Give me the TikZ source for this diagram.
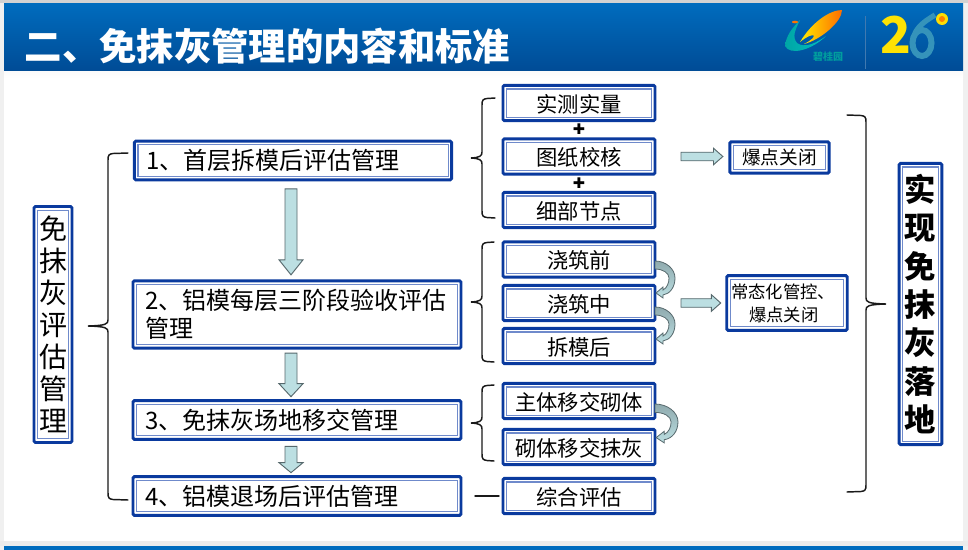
\documentclass[tikz,border=0pt]{standalone}
\usepackage{fontspec}
\setmainfont{Noto Sans CJK SC}
\newfontfamily\plusfont{DejaVu Sans}
\usetikzlibrary{calc}
\definecolor{bd}{HTML}{0A3A9E}
\definecolor{bdin}{HTML}{6F8ACB}
\definecolor{af}{HTML}{BCDFE2}
\definecolor{ad}{HTML}{8FAAAE}
\definecolor{as}{HTML}{56686C}
\definecolor{brk}{HTML}{1A1A1A}
\definecolor{hdtop}{HTML}{006CBE}
\definecolor{hdbot}{HTML}{004C96}
\tikzset{
  boxbase/.style={draw=bd,line width=2.2pt,rounded corners=1pt,fill=white,inner sep=0pt,outer sep=0pt,
    path picture={\draw[bdin,line width=.85pt,rounded corners=0pt]
      ([shift={(2.7pt,2.7pt)}]path picture bounding box.south west) rectangle
      ([shift={(-2.7pt,-2.7pt)}]path picture bounding box.north east);}},
  mainbox/.style={boxbase,align=left,anchor=center,font=\fontsize{18}{21}\selectfont,inner xsep=9pt,text width=#1,minimum height=29pt},
  subbox/.style={boxbase,align=center,font=\fontsize{16}{19}\selectfont,text height=15pt,text depth=1.5pt,minimum width=114pt,minimum height=26.5pt},
  resbox/.style={boxbase,font=\fontsize{14}{17}\selectfont},
  plusmark/.style={font=\plusfont\fontsize{11}{11}\selectfont},
  bracel/.style={draw=brk,line width=1.1pt,line cap=round},
  varrow/.style n args={3}{fill=af,draw=as,line width=.7pt,to path={
    let \p1=(\tikztostart),\p2=(\tikztotarget) in
    (\x1-4.5pt,\y1-#1*.75pt) -- (\x1+4.5pt,\y1-#1*.75pt) -- (\x1+4.5pt,\y2+#2*.75pt+#3*.75pt)
    -- (\x1+9pt,\y2+#2*.75pt+#3*.75pt) -- (\x1,\y2+#2*.75pt) -- (\x1-9pt,\y2+#2*.75pt+#3*.75pt)
    -- (\x1-4.5pt,\y2+#2*.75pt+#3*.75pt) -- cycle}},
  harrow/.style 2 args={fill=af,draw=as,line width=.7pt,to path={
    let \p1=(\tikztostart),\p2=(\tikztotarget) in
    (\x1+#1*.75pt,\y1+3.2pt) -- (\x2-#2*.75pt-7pt,\y1+3.2pt) -- (\x2-#2*.75pt-7pt,\y1+6.2pt)
    -- (\x2-#2*.75pt,\y1) -- (\x2-#2*.75pt-7pt,\y1-6.2pt) -- (\x2-#2*.75pt-7pt,\y1-3.2pt)
    -- (\x1+#1*.75pt,\y1-3.2pt) -- cycle}},
  crescent/.style={top color=ad,bottom color=af,draw=as,line width=.6pt}
}
% #1 top end, #2 bottom end, #3 tip, #4 direction, #5 depth
\newcommand\curlybrace[5]{%
  \coordinate (vt) at ($(#1)+(-#4*#5,0)$);
  \coordinate (vb) at ($(#2)+(-#4*#5,0)$);
  \coordinate (vm) at (vt |- #3);
  \draw[bracel] (#1) -- ($(vt)+(#4*5,.5)$) .. controls ($(vt)+(#4*1,1)$) and ($(vt)+(0,2)$) .. ($(vt)+(0,7)$)
    -- ($(vm)+(0,-6)$) .. controls ($(vm)+(0,-2)$) and ($(vm)+(-#4*2,-.5)$) .. (#3)
    .. controls ($(vm)+(-#4*2,.5)$) and ($(vm)+(0,2)$) .. ($(vm)+(0,6)$)
    -- ($(vb)+(0,-7)$) .. controls ($(vb)+(0,-2)$) and ($(vb)+(#4*1,-1)$) .. ($(vb)+(#4*5,-.5)$) -- (#2);
}
% #1 node, #2 y offset from its east anchor, #3 xscale, #4 yscale
\newcommand\bendarrow[4]{%
  \begin{scope}[shift={([yshift=-#2*.75pt]#1.east)},xscale=#3,yscale=#4]
    \path[crescent] (0,0) .. controls (11,0) and (20,8) .. (20,17)
      .. controls (20,26) and (15,33) .. (8,34) -- (8,37) -- (1,32) -- (8,26) -- (8,29)
      .. controls (12,27) and (14,22) .. (14,17) .. controls (14,12) and (8,8) .. (0,8) -- cycle;
  \end{scope}
}
\begin{document}
\begin{tikzpicture}[x=.75pt,y=-.75pt]
\useasboundingbox (0,0) rectangle (968,550);
% window
\fill[white] (0,0) rectangle (968,550);
\fill[gray!12] (0,0) rectangle (4,550);
\fill[gray!12] (963,0) rectangle (968,550);
\fill[gray!15] (0,541) rectangle (968,546);
\fill[gray!35] (0,0) rectangle (968,3);
\shade[top color=black!2,bottom color=white] (4,70) rectangle (963,78);
\shade[top color=hdtop,bottom color=hdbot] (4,3) rectangle (963,70);
\fill[hdtop] (4,546) rectangle (963,550);
\node[text=white,font=\fontsize{28}{32}\selectfont\bfseries,anchor=west] (title) at (20,46) {二、免抹灰管理的内容和标准};
% logo one
\shade[left color=teal!70!cyan,right color=teal!50!cyan,draw=none] (785,46) .. controls (786,36) and (792,28) .. (800,20) .. controls (795,30) and (792,37) .. (797,43) .. controls (805,49) and (818,42) .. (826,36) .. controls (812,50) and (790,56) .. (785,46) -- cycle;
\shade[left color=yellow!85!orange,right color=orange!85!red] (800,42) .. controls (812,22) and (830,10) .. (842,10) .. controls (842,22) and (820,40) .. (804,44) .. controls (820,36) and (815,30) .. (800,42) -- cycle;
\fill[orange!90!red] (795,22) ellipse (3 and 1.3);
\node[text=teal!45!cyan!80!black,font=\fontsize{7.5}{9}\selectfont\bfseries] (lg) at (828,57) {碧桂园};
\draw[hdbot!75!white,line width=.4pt] (865,16) -- (865,69);
% logo two
\node[text=yellow!85!orange,font=\fontsize{38}{38}\selectfont\bfseries] (twoa) at (896,35) {2};
\draw[cyan!45!teal,line width=4.5pt] (922,43) ellipse (9.5 and 13);
\draw[cyan!45!teal,line width=4pt] (915,33) .. controls (920,24) and (927,20) .. (935,15);
\fill[yellow!80!orange] (942,19) circle (6);
\fill[orange] (942,19) circle (3);
% main boxes
\node[boxbase,font=\fontsize{21}{24}\selectfont,align=center,minimum width=28.5pt,minimum height=177pt] (lft) at (53,324.5) {免\\抹\\灰\\评\\估\\管\\理};
\node[mainbox=220pt] (m1) at (293,160.5) {1、首层拆模后评估管理};
\node[mainbox=228pt,minimum height=50.5pt] (m2) at (297,314.5) {2、铝模每层三阶段验收评估\\管理};
\node[mainbox=228pt] (m3) at (297,420) {3、免抹灰场地移交管理};
\node[mainbox=228pt] (m4) at (297,496) {4、铝模退场后评估管理};
% sub boxes
\node[subbox] (s1) at (579,103) {实测实量};
\node[subbox] (s2) at (579,156.5) {图纸校核};
\node[subbox] (s3) at (579,210) {细部节点};
\node[subbox] (s4) at (579,259.5) {浇筑前};
\node[subbox] (s5) at (579,303) {浇筑中};
\node[subbox] (s6) at (579,346) {拆模后};
\node[subbox] (s7) at (579,401) {主体移交砌体};
\node[subbox] (s8) at (579,447) {砌体移交抹灰};
\node[subbox] (s9) at (579,496) {综合评估};
\node[plusmark] (p1) at (579,129.5) {✚};
\node[plusmark] (p2) at (579,183) {✚};
% result boxes
\node[resbox,minimum width=74.5pt,minimum height=23.5pt] (r1) at (779.5,157.5) {爆点关闭};
\node[boxbase,font=\fontsize{13}{17.2}\selectfont,align=left,text width=84pt,inner xsep=3.2pt,minimum height=41pt] (r2) at (787,303) {常态化管控、\\\hspace*{13.5pt}爆点关闭};
\node[boxbase,font=\fontsize{23.5}{28.75}\selectfont\bfseries,align=center,minimum width=32pt,minimum height=211pt] (rgt) at (920.5,304) {实\\现\\免\\抹\\灰\\落\\地};
% block arrows
\coordinate (ax) at (291,0);
\draw[varrow={9}{6}{15}] (m1.south -| ax) to (m2.north -| ax);
\draw[varrow={5}{4}{13}] (m2.south -| ax) to (m3.north -| ax);
\draw[varrow={7}{4}{10}] (m3.south -| ax) to (m4.north -| ax);
\draw[harrow={26}{7}] (s2.east) to (r1.west);
\draw[harrow={26}{6}] (s5.east) to (r2.west);
% bent arrows
\bendarrow{s4}{1.5}{1}{1}
\bendarrow{s5}{4}{1}{1}
\bendarrow{s7}{3}{1.15}{1.05}
% braces
\coordinate (t0a) at (128,153); \coordinate (t0b) at (128,500); \coordinate (t0) at (88,326);
\coordinate (t1a) at (495,98);  \coordinate (t1b) at (495,218); \coordinate (t1) at (471,158);
\coordinate (t2a) at (494,242); \coordinate (t2b) at (494,362); \coordinate (t2) at (471,302);
\coordinate (t3a) at (494,385); \coordinate (t3b) at (494,461); \coordinate (t3) at (471,423);
\coordinate (t4a) at (847,115); \coordinate (t4b) at (847,492); \coordinate (t4) at (886,304);
\curlybrace{t0a}{t0b}{t0}{1}{20}
\curlybrace{t1a}{t1b}{t1}{1}{13}
\curlybrace{t2a}{t2b}{t2}{1}{12}
\curlybrace{t3a}{t3b}{t3}{1}{12}
\curlybrace{t4a}{t4b}{t4}{-1}{19}
\draw[bracel,shorten <=10.5pt,shorten >=3pt] (m4.east) -- (s9.west);
\end{tikzpicture}
\end{document}
